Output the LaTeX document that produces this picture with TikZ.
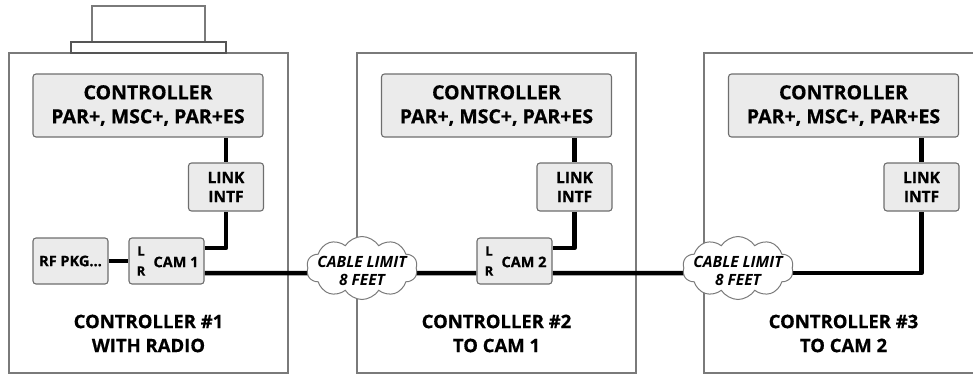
\documentclass[tikz,border=0pt]{standalone}
\usepackage{fontspec}
\setmainfont{Open Sans}[BoldFeatures={FakeBold=0.6}]
\usetikzlibrary{shapes.symbols,calc}
\pgfdeclarelayer{bg}
\pgfdeclarelayer{mid}
\pgfsetlayers{bg,mid,main}
\definecolor{boxfill}{HTML}{EBEBEB}
\definecolor{boxline}{HTML}{6E6E6E}
\definecolor{outline}{HTML}{7A7A7A}
\definecolor{darkline}{HTML}{555555}
\begin{document}
\begin{tikzpicture}[x=1pt,y=-1pt,
 outerbox/.style={draw=outline,line width=1.5pt},
 inner/.style={draw=boxline,fill=boxfill,line width=1.1pt,rounded corners=3pt,inner sep=0pt,align=center},
 ctrl/.style={inner,minimum width=230pt,minimum height=63pt,font=\bfseries\fontsize{19.5}{24}\selectfont},
 linkbox/.style={inner,minimum width=75pt,minimum height=48pt,font=\bfseries\fontsize{15.5}{19}\selectfont},
 cambox/.style={inner,minimum width=75pt,minimum height=46pt,font=\bfseries\fontsize{14.5}{15}\selectfont},
 camtxt/.style={font=\bfseries\fontsize{14.5}{15}\selectfont,inner sep=0pt},
 lr/.style={font=\bfseries\fontsize{13}{14}\selectfont,inner sep=0pt},
 cable/.style={line width=4.5pt,line join=round},
 cloudbox/.style={cloud,cloud puffs=10,cloud puff arc=115,aspect=1.8,draw=outline,line width=1pt,fill=white,minimum width=111pt,minimum height=63pt,inner sep=0pt},
 cloudtxt/.style={font=\bfseries\itshape\fontsize{15.5}{18}\selectfont,align=center,inner sep=0pt},
 caption/.style={font=\bfseries\fontsize{18.5}{24}\selectfont,align=center,inner sep=0pt}
]
\useasboundingbox (0,0) rectangle (973,375);
\begin{pgfonlayer}{bg}
\draw[outerbox] (9,53) rectangle (288,373);
\draw[outerbox] (357,53) rectangle (636,373);
\draw[outerbox] (973,53) -- (704,53) -- (704,373) -- (973,373);
\draw[draw=outline,line width=1.3pt,fill=white] (92,6) rectangle (205,42);
\draw[draw=darkline,line width=1.3pt,fill=white] (71,42) rectangle (226,53);
\end{pgfonlayer}

% controller 1
\node[ctrl] (c1) at (148,105.5) {CONTROLLER\\PAR+, MSC+, PAR+ES};
\node[linkbox] (l1) at (226,187) {LINK\\INTF};
\node[cambox] (rf) at (70.5,261) {RF PKG...};
\node[cambox] (cam1) at (166.5,261) {};
\node[camtxt] (cam1t) at (176,262) {CAM 1};
\node[lr] (cam1l) at (141,251) {L};
\node[lr] (cam1r) at (141,271) {R};
\node[caption] (cap1) at (148.5,333.5) {CONTROLLER \#1\\WITH RADIO};

% controller 2
\node[ctrl] (c2) at (496.5,105.5) {CONTROLLER\\PAR+, MSC+, PAR+ES};
\node[linkbox] (l2) at (574.5,187) {LINK\\INTF};
\node[cambox] (cam2) at (514.5,261) {};
\node[camtxt] (cam2t) at (524,262) {CAM 2};
\node[lr] (cam2l) at (489,251) {L};
\node[lr] (cam2r) at (489,271) {R};
\node[caption] (cap2) at (496.5,333.5) {CONTROLLER \#2\\TO CAM 1};

% controller 3
\node[ctrl] (c3) at (843.5,105.5) {CONTROLLER\\PAR+, MSC+, PAR+ES};
\node[linkbox] (l3) at (921.5,187) {LINK\\INTF};
\node[caption] (cap3) at (843.5,333.5) {CONTROLLER \#3\\TO CAM 2};

% clouds
\node[cloudbox] (cl1) at (362,268) {};
\node[cloudtxt] (cl1t) at (362,271) {CABLE LIMIT\\8 FEET};
\node[cloudbox] (cl2) at (738,268) {};
\node[cloudtxt] (cl2t) at (738,271) {CABLE LIMIT\\8 FEET};

\begin{pgfonlayer}{mid}
\draw[cable] (c1.south -| l1.north) -- (l1.north);
\draw[cable] (l1.south) |- ([yshift=13pt]cam1.east);
\draw[cable] (rf.east) -- (cam1.west);
\draw[cable] ([yshift=-12pt]cam1.east) -- ([xshift=5pt,yshift=-5pt]cl1.west);
\draw[cable] ([xshift=-5pt,yshift=-5pt]cl1.east) -- ([yshift=-12pt]cam2.west);
\draw[cable] (c2.south -| l2.north) -- (l2.north);
\draw[cable] (l2.south) |- ([yshift=13pt]cam2.east);
\draw[cable] ([yshift=-12pt]cam2.east) -- ([xshift=5pt,yshift=-5pt]cl2.west);
\draw[cable] ([xshift=-5pt,yshift=-5pt]cl2.east) -| (l3.south);
\draw[cable] (c3.south -| l3.north) -- (l3.north);
\end{pgfonlayer}
\end{tikzpicture}
\end{document}
